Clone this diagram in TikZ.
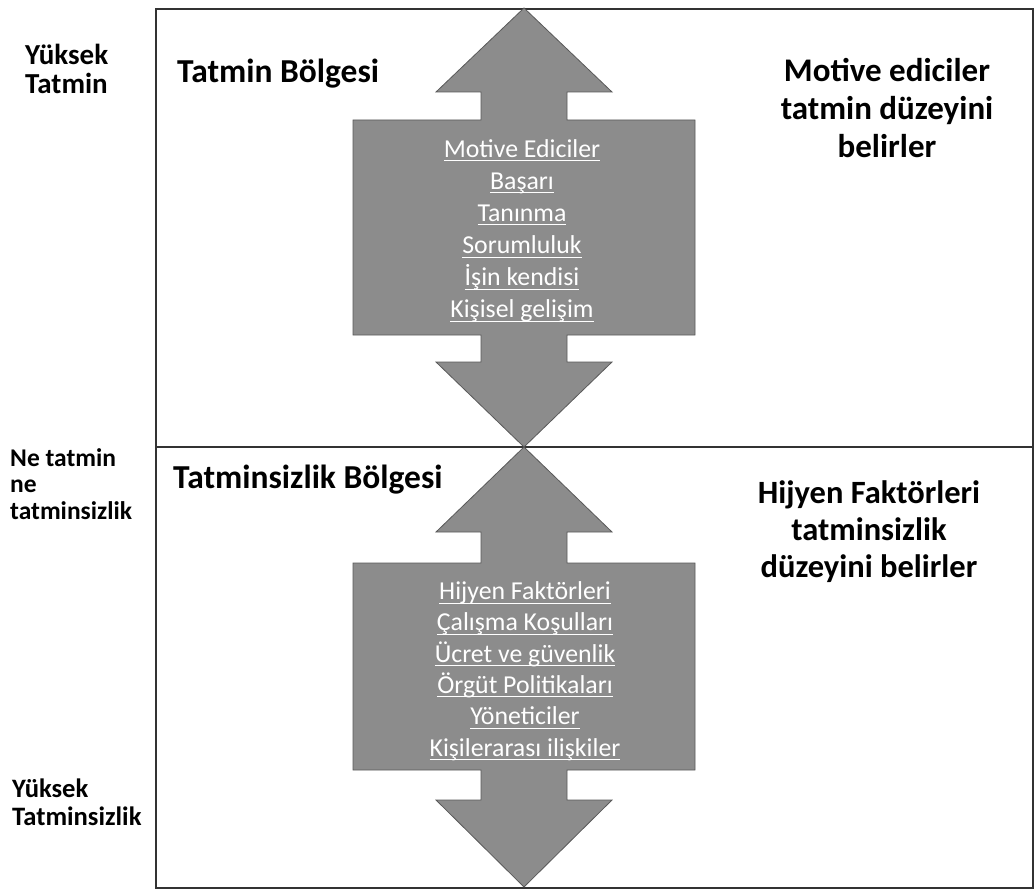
\documentclass[tikz,border=0pt]{standalone}
\usepackage{fontspec}
\setmainfont{Carlito}
\usetikzlibrary{positioning}

% white underlined line of a factor list
\newcommand{\fline}[1]{\setbox0=\hbox{#1}\rlap{\rule[-4pt]{\wd0}{1pt}}\box0}

\tikzset{
	frame/.style={draw=black!80, line width=1.4pt},
	callout/.style={fill=black!45, draw=black!65, line width=0.8pt},
	level/.style={font=\bfseries\fontsize{#1}{28}\selectfont, align=left, anchor=base west, inner sep=0},
	zone/.style={font=\bfseries\fontsize{33.5}{38}\selectfont, anchor=base west, inner sep=0},
	note/.style={font=\bfseries\fontsize{33}{38}\selectfont, align=center, anchor=base, inner sep=0},
	factor/.style={font=\fontsize{25.8}{#1}\selectfont, text=white, align=center, anchor=base, inner sep=0}
}

\begin{document}
\begin{tikzpicture}[x=1pt, y=-1pt]
		\useasboundingbox (0,0) rectangle (1036,893);
		\draw[frame] (156,9) rectangle (1033,888);
		\draw[frame] (156,447) -- (1033,447);
		% upper arrow (motive ediciler)
		\draw[callout] (524,8) -- (612,92) -- (567,92) -- (567,120) -- (695,120) -- (695,335) -- (567,335) -- (567,362) -- (612,362) -- (524,447) -- (436,362) -- (481,362) -- (481,335) -- (353,335) -- (353,120) -- (481,120) -- (481,92) -- (436,92) -- cycle;
		% lower arrow (hijyen faktorleri)
		\draw[callout] (524,447) -- (612,532) -- (567,532) -- (567,563) -- (695,563) -- (695,770) -- (567,770) -- (567,800) -- (612,800) -- (524,887) -- (436,800) -- (481,800) -- (481,770) -- (353,770) -- (353,563) -- (481,563) -- (481,532) -- (436,532) -- cycle;
		\node[level=29, font=\bfseries\fontsize{29}{29.5}\selectfont] (ytatmin) at (25,94) {Yüksek\\Tatmin};
		\node[level=25.5, font=\bfseries\fontsize{25.5}{26.5}\selectfont] (notr) at (10,519) {Ne tatmin\\ne\\tatminsizlik};
		\node[level=26.6] (ytatminsiz) at (12,825) {Yüksek\\Tatminsizlik};
		\node[zone] (tbolge) at (177,83) {Tatmin Bölgesi};
		\node[zone] (tsbolge) at (173,488) {Tatminsizlik Bölgesi};
		\node[note] (motnote) at (887,158) {Motive ediciler\\tatmin düzeyini\\belirler};
		\node[note, font=\bfseries\fontsize{32.5}{37}\selectfont] (hijnote) at (869,577) {Hijyen Faktörleri\\tatminsizlik\\düzeyini belirler};
		\node[factor=32.2] (motlist) at (522,318) {\fline{Motive Ediciler}\\\fline{Başarı}\\\fline{Tanınma}\\\fline{Sorumluluk}\\\fline{İşin kendisi}\\\fline{Kişisel gelişim}};
		\node[factor=31.3] (hijlist) at (525,756) {\fline{Hijyen Faktörleri}\\\fline{Çalışma Koşulları}\\\fline{Ücret ve güvenlik}\\\fline{Örgüt Politikaları}\\\fline{Yöneticiler}\\\fline{Kişilerarası ilişkiler}};
	\end{tikzpicture}
\end{document}
